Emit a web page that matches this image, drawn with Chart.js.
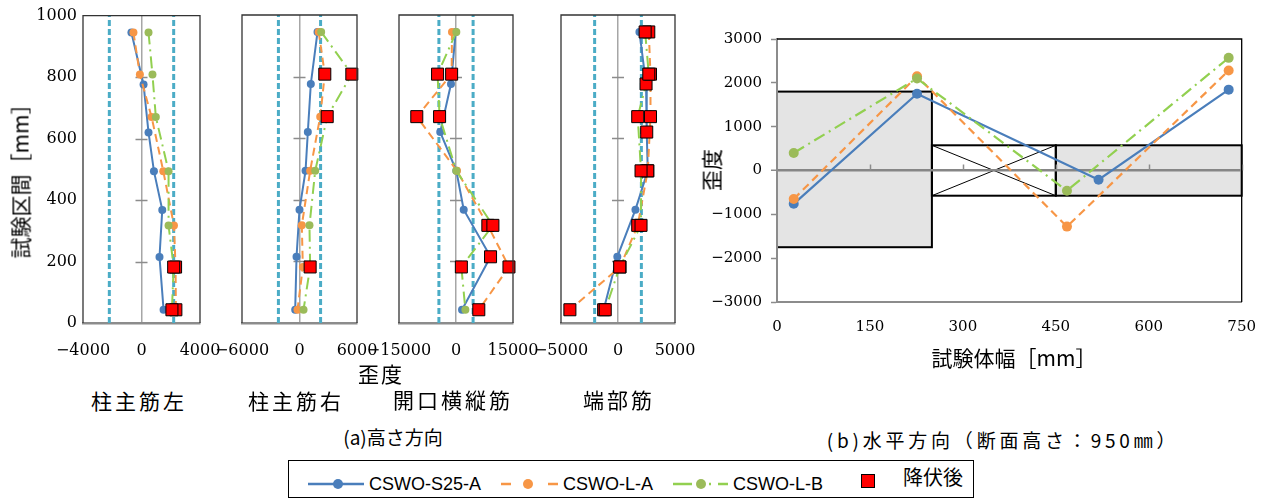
<!DOCTYPE html>
<html>
<head>
<meta charset="utf-8">
<script src="https://cdn.jsdelivr.net/npm/chart.js@4.4.1/dist/chart.umd.min.js"></script>
<style>
  html, body { margin: 0; padding: 0; background: #fff; }
  body { width: 1272px; height: 499px; position: relative; overflow: hidden; font-family: "Noto Sans CJK JP", sans-serif; }
  canvas { position: absolute; top: 0; }
  .t { position: absolute; white-space: nowrap; color: #000; line-height: 1; transform: translate(-50%, -50%); }
  .rot { transform: translate(-50%, -50%) rotate(-90deg); }
  .jp { font-size: 21px; }
  #legend { position: absolute; left: 288px; top: 460px; width: 686px; height: 38px; border: 1px solid #000; box-sizing: border-box; }
  #legend svg { position: absolute; left: 0; top: 0; }
  .lg { position: absolute; white-space: nowrap; line-height: 1; transform: translateY(-50%); font-family: "Liberation Sans", Arial, sans-serif; font-size: 18px; color: #000; }
</style>
</head>
<body>

<!-- height-direction panels -->
<canvas id="p0"></canvas>
<canvas id="p1"></canvas>
<canvas id="p2"></canvas>
<canvas id="p3"></canvas>
<!-- width-direction chart -->
<canvas id="hz"></canvas>

<div class="t rot jp" style="left:20px; top:176px;">試験区間［mm］</div>
<div class="t jp" style="left:381px; top:373px; letter-spacing:2px;">歪度</div>
<div class="t jp" style="left:139px; top:400px; letter-spacing:3px;">柱主筋左</div>
<div class="t jp" style="left:296px; top:400px; letter-spacing:3px;">柱主筋右</div>
<div class="t jp" style="left:453px; top:399px; letter-spacing:3px;">開口横縦筋</div>
<div class="t jp" style="left:619px; top:399px; letter-spacing:3px;">端部筋</div>
<div class="t" style="left:393px; top:436px; font-size:19px;">(a)高さ方向</div>

<div class="t rot jp" style="left:711px; top:170px;">歪度</div>
<div class="t jp" style="left:1014px; top:357px;">試験体幅［mm］</div>
<div class="t" style="left:1003px; top:439px; font-size:19px; letter-spacing:3.8px;">(b)水平方向（断面高さ：950㎜）</div>

<div id="legend">
  <svg width="686" height="38">
    <line x1="19" y1="23" x2="75" y2="23" stroke="#4a7ebb" stroke-width="2.5"/>
    <circle cx="49" cy="23" r="5" fill="#4a7ebb"/>
    <line x1="212" y1="23" x2="269" y2="23" stroke="#f79646" stroke-width="2.5" stroke-dasharray="10,37"/>
    <circle cx="239" cy="23" r="5" fill="#f79646"/>
    <line x1="384" y1="23" x2="440" y2="23" stroke="#92d050" stroke-width="2.5" stroke-dasharray="19,17,2,7,10"/>
    <circle cx="412" cy="23" r="5" fill="#9bbb59"/>
    <rect x="572.5" y="13.5" width="13" height="13" fill="#ff0000" stroke="#000" stroke-width="1"/>
  </svg>
  <div class="lg" style="left:80px; top:23px;">CSWO-S25-A</div>
  <div class="lg" style="left:274px; top:23px;">CSWO-L-A</div>
  <div class="lg" style="left:444px; top:23px;">CSWO-L-B</div>
  <div class="lg" style="left:614px; top:16px; font-family:'Noto Sans CJK JP',sans-serif; font-size:20px;">降伏後</div>
</div>

<script>
// ---- gauge heights along the specimen [mm] ----
const heightsS25 = [945, 776, 620, 494, 368, 215, 43];
const heightsL = [945, 808, 670, 494, 317, 182, 43];

// ---- panels of the height-direction figure ----
const panelRanges = [4000, 6000, 15000, 5000];
const yieldStrains = [2200, 2200, 4500, 2050];

// strain per panel, listed from the top gauge downward
const strainS25 = [
  [-690, 140, 480, 850, 1420, 1230, 1510],
  [1880, 1180, 870, 630, 0, -310, -450],
  [-90, -1320, -4150, 90, 2030, 9090, 1590],
  [1880, 2460, 2520, 2610, 1530, -60, -1260]
];
const strainLA = [
  [-550, -110, 690, 1490, 2220, 2330, 2350],
  [2000, 2640, 2160, 1110, 240, 350, -210],
  [-1060, -1150, -10320, 260, 8380, 13940, 6000],
  [2700, 2850, 2850, 2610, 1730, 180, -4220]
];
const strainLB = [
  [480, 750, 980, 1850, 1850, 2200, 2080],
  [2260, 5460, 2890, 1640, 1040, 1110, 420],
  [90, -4850, -4320, 90, 9710, 1410, 2470],
  [2380, 2700, 1730, 2020, 2020, 150, -1120]
];
// indices of gauges that had already yielded
const yieldedS25 = [[], [], [5], [1, 2, 3, 6]];
const yieldedLA = [[5, 6], [1], [1, 2, 4, 5, 6], [0, 1, 2, 3, 4, 5, 6]];
const yieldedLB = [[5, 6], [1, 2, 5], [1, 2, 4, 5], [0, 1, 2, 3, 4, 5, 6]];

// ---- width-direction figure (section height 950 mm) ----
const widthS25 = [27, 226, 519, 729];
const widthL = [27, 226, 468, 729];
const hStrainS25 = [-760, 1750, -210, 1845];
const hStrainLA = [-650, 2150, -1280, 2280];
const hStrainLB = [400, 2100, -460, 2570];

// outline of the section behind the width-direction curves [mm, strain units]
const sectionBlocks = [
  { x0: 0, x1: 250, y0: -1750, y1: 1800, opening: false },
  { x0: 250, x1: 450, y0: -575, y1: 575, opening: true },
  { x0: 450, x1: 750, y0: -575, y1: 575, opening: false }
];

// ---- styling ----
const styles = {
  s25: { label: 'CSWO-S25-A', line: '#4a7ebb', point: '#4a7ebb', dash: [] },
  la: { label: 'CSWO-L-A', line: '#f79646', point: '#f79646', dash: [8, 5] },
  lb: { label: 'CSWO-L-B', line: '#92d050', point: '#9bbb59', dash: [12, 5, 2, 5] }
};
const numFont = "'DejaVu Serif', 'Liberation Serif', serif";
const fmt = v => (v < 0 ? '\u2212' + Math.abs(v) : String(v));
const clear = 'rgba(0,0,0,0)';

function lineDataset(st, xs, ys, r, w, order) {
  return {
    label: st.label, order,
    data: xs.map((x, k) => ({ x, y: ys[k] })),
    showLine: true, borderColor: st.line, borderWidth: w, borderDash: st.dash,
    pointRadius: r, pointHoverRadius: r, pointBorderWidth: 0,
    pointBackgroundColor: st.point, pointBorderColor: st.point
  };
}

// frame, section outline and axis cross ticks
const framePlugin = {
  id: 'frame',
  beforeDraw(chart, args, o) {
    if (!o.blocks) return;
    const { ctx, scales: { x, y } } = chart;
    ctx.save();
    o.blocks.forEach(b => {
      const l = x.getPixelForValue(b.x0), r = x.getPixelForValue(b.x1);
      const t = y.getPixelForValue(b.y1), btm = y.getPixelForValue(b.y0);
      ctx.fillStyle = b.opening ? '#ffffff' : '#e4e4e4';
      ctx.fillRect(l, t, r - l, btm - t);
      if (b.opening) {
        ctx.strokeStyle = '#000'; ctx.lineWidth = 1;
        ctx.beginPath();
        ctx.moveTo(l, t); ctx.lineTo(r, btm);
        ctx.moveTo(l, btm); ctx.lineTo(r, t);
        ctx.stroke();
      }
    });
    ctx.strokeStyle = '#000'; ctx.lineWidth = 2;
    o.blocks.forEach(b => {
      const l = x.getPixelForValue(b.x0), r = x.getPixelForValue(b.x1);
      const t = y.getPixelForValue(b.y1), btm = y.getPixelForValue(b.y0);
      ctx.strokeRect(l, t, r - l, btm - t);
    });
    ctx.restore();
  },
  beforeDatasetsDraw(chart, args, o) {
    const { ctx, scales: { x, y } } = chart;
    ctx.save();
    ctx.strokeStyle = '#8c8c8c'; ctx.lineWidth = 1.5;
    ctx.beginPath();
    if (o.crossTicks) {
      const px = x.getPixelForValue(0);
      y.ticks.forEach(t => {
        if (t.value <= y.min || t.value >= y.max) return;
        const py = Math.round(y.getPixelForValue(t.value)) + 0.5;
        ctx.moveTo(px - 6, py); ctx.lineTo(px + 6, py);
      });
    }
    if (o.upTicks) {
      const py = y.getPixelForValue(0);
      x.ticks.forEach(t => {
        if (t.value <= x.min) return;
        const px = Math.round(x.getPixelForValue(t.value)) + 0.5;
        ctx.moveTo(px, py); ctx.lineTo(px, py - 6);
      });
    }
    ctx.stroke();
    ctx.restore();
  },
  afterDraw(chart, args, o) {
    const { ctx, chartArea: a } = chart;
    ctx.save();
    ctx.strokeStyle = o.edge || '#000'; ctx.lineWidth = 1.3;
    ctx.beginPath();
    if (o.leftEdge) { ctx.moveTo(a.left, a.bottom); ctx.lineTo(a.left, a.top); }
    else { ctx.moveTo(a.left, a.top); }
    ctx.lineTo(a.right, a.top); ctx.lineTo(a.right, a.bottom);
    ctx.stroke();
    ctx.restore();
  }
};

// ---- height-direction panels ----
const plotLeft = [83, 242, 399, 561];
const plotWidth = [117, 115, 114, 114];
const MARGIN_L = 80, MARGIN_R = 45, CANVAS_H = 380, PLOT_TOP = 15, PLOT_BOTTOM = 323;

function yieldedPoints(i) {
  const pts = [];
  const add = (xs, ys, idx) => idx.forEach(k => pts.push({ x: xs[k], y: ys[k] }));
  add(strainS25[i], heightsS25, yieldedS25[i]);
  add(strainLA[i], heightsL, yieldedLA[i]);
  add(strainLB[i], heightsL, yieldedLB[i]);
  return pts;
}

for (let i = 0; i < 4; i++) {
  const cv = document.getElementById('p' + i);
  cv.width = plotWidth[i] + MARGIN_L + MARGIN_R;
  cv.height = CANVAS_H;
  cv.style.left = (plotLeft[i] - MARGIN_L) + 'px';
  const R = panelRanges[i], Y = yieldStrains[i];
  const limitLine = xv => ({
    label: 'yield', order: 5, data: [{ x: xv, y: 0 }, { x: xv, y: 1000 }],
    showLine: true, borderColor: '#4bacc6', borderWidth: 3, borderDash: [6, 3], pointRadius: 0
  });
  new Chart(cv, {
    type: 'scatter',
    data: {
      datasets: [
        { label: '降伏後', order: 0, data: yieldedPoints(i), clip: false,
          pointStyle: 'rect', pointRadius: 8.5, pointHoverRadius: 8.5,
          pointBackgroundColor: '#ff0000', pointBorderColor: '#000', pointBorderWidth: 1 },
        lineDataset(styles.lb, strainLB[i], heightsL, 4, 2, 1),
        lineDataset(styles.la, strainLA[i], heightsL, 4, 2, 2),
        lineDataset(styles.s25, strainS25[i], heightsS25, 4, 2, 3),
        limitLine(-Y), limitLine(Y)
      ]
    },
    options: {
      responsive: false, animation: false, devicePixelRatio: 1, events: [],
      layout: { autoPadding: false, padding: { left: 0, right: MARGIN_R, top: PLOT_TOP, bottom: 0 } },
      plugins: { legend: { display: false }, tooltip: { enabled: false },
        frame: { crossTicks: true, leftEdge: true, edge: '#333' } },
      scales: {
        x: {
          type: 'linear', min: -R, max: R,
          ticks: { stepSize: R, padding: 18, autoSkip: false, maxRotation: 0, color: '#000',
            font: { family: numFont, size: 16 }, callback: fmt },
          grid: { color: c => (c.tick && c.tick.value === 0 ? '#a6a6a6' : clear), lineWidth: 1.5, drawTicks: false },
          border: { display: true, color: '#8c8c8c', width: 2.5 },
          afterFit: s => { s.height = CANVAS_H - PLOT_BOTTOM; }
        },
        y: {
          type: 'linear', min: 0, max: 1000,
          ticks: { display: i === 0, stepSize: 200, padding: 6, color: '#000',
            font: { family: numFont, size: 16 }, callback: fmt },
          grid: { display: false, drawTicks: false },
          border: { display: false },
          afterFit: s => { s.width = MARGIN_L; }
        }
      }
    },
    plugins: [framePlugin]
  });
}

// ---- width-direction chart ----
const hz = document.getElementById('hz');
hz.width = 572; hz.height = 390; hz.style.left = '700px';
new Chart(hz, {
  type: 'scatter',
  data: {
    datasets: [
      lineDataset(styles.lb, widthL, hStrainLB, 5, 2.2, 1),
      lineDataset(styles.la, widthL, hStrainLA, 5, 2.2, 2),
      lineDataset(styles.s25, widthS25, hStrainS25, 5, 2.2, 3)
    ]
  },
  options: {
    responsive: false, animation: false, devicePixelRatio: 1, events: [],
    layout: { autoPadding: false, padding: { left: 0, right: 26, top: 39, bottom: 0 } },
    plugins: { legend: { display: false }, tooltip: { enabled: false },
      frame: { blocks: sectionBlocks, upTicks: true, leftEdge: false, edge: '#000' } },
    scales: {
      x: {
        type: 'linear', min: 0, max: 750,
        ticks: { stepSize: 150, padding: 16, autoSkip: false, maxRotation: 0, color: '#000',
          font: { family: numFont, size: 15 }, callback: fmt },
        grid: { color: clear, drawTicks: false },
        border: { display: true, color: '#8c8c8c', width: 2 },
        afterFit: s => { s.height = 88; }
      },
      y: {
        type: 'linear', min: -3000, max: 3000,
        ticks: { stepSize: 1000, padding: 9, color: '#000', font: { family: numFont, size: 15 }, callback: fmt },
        grid: {
          color: c => (c.tick && c.tick.value === 0 ? '#868686' : clear),
          lineWidth: c => (c.tick && c.tick.value === 0 ? 2.5 : 1),
          tickColor: '#8c8c8c', tickWidth: 1.5, tickLength: 6, drawTicks: true
        },
        border: { display: true, color: '#8c8c8c', width: 2 },
        afterFit: s => { s.width = 77; }
      }
    }
  },
  plugins: [framePlugin]
});
</script>
</body>
</html>
